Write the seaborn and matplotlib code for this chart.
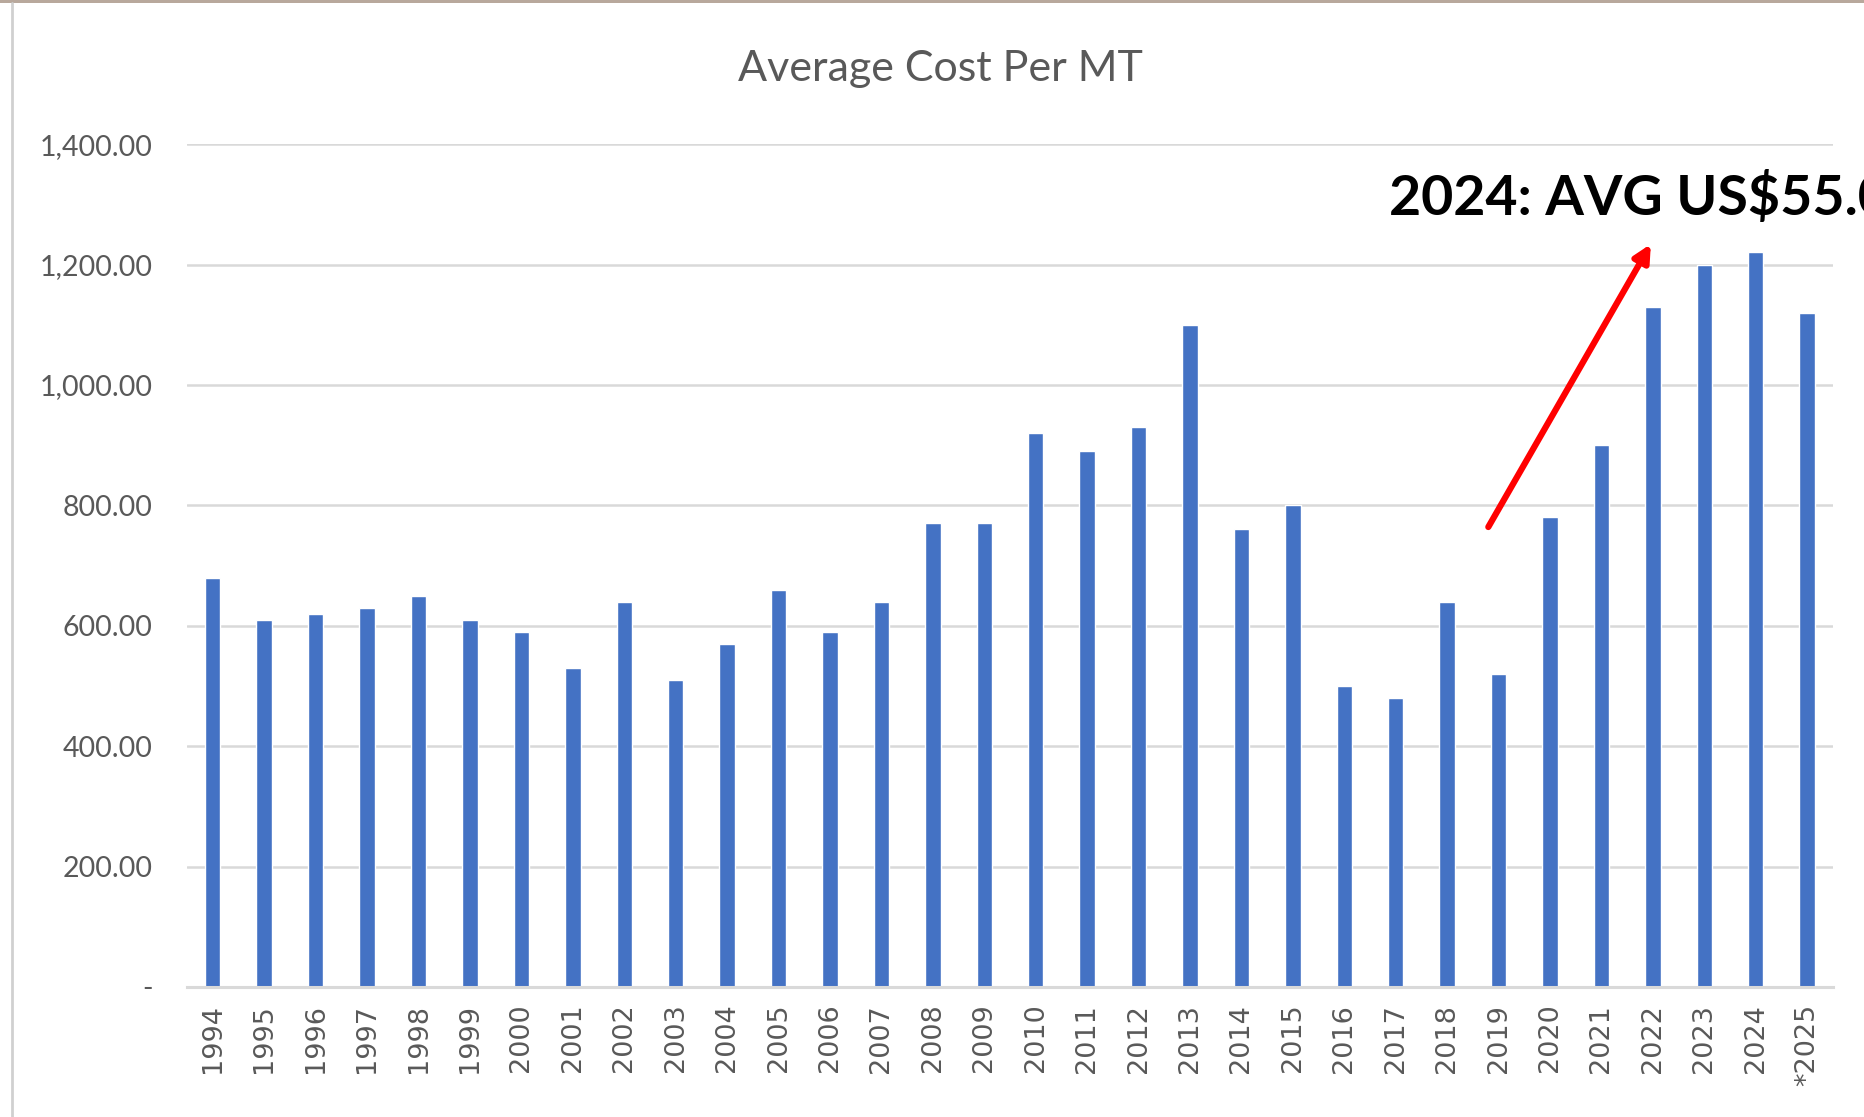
"""
Costo promedio por tonelada métrica, 1994-2025.
"""
import matplotlib.pyplot as plt
import matplotlib.patches as mpatches
import pandas as pd
import seaborn as sns

years = ['1994', '1995', '1996', '1997', '1998', '1999', '2000', '2001', '2002', '2003',
         '2004', '2005', '2006', '2007', '2008', '2009', '2010', '2011', '2012', '2013',
         '2014', '2015', '2016', '2017', '2018', '2019', '2020', '2021', '2022', '2023',
         '2024', '*2025']
avg_cost = [680, 610, 620, 630, 650, 610, 590, 530, 640, 510,
            570, 660, 590, 640, 770, 770, 920, 890, 930, 1100,
            760, 800, 500, 480, 640, 520, 780, 900, 1130, 1200,
            1220, 1120]
y_ticks = [0, 200, 400, 600, 800, 1000, 1200, 1400]
y_tick_labels = ['-', '200.00', '400.00', '600.00', '800.00', '1,000.00', '1,200.00', '1,400.00']

df = pd.DataFrame({'anio': years, 'costo': avg_cost})

sns.set_style('white')
gris_texto = '#595959'
gris_linea = '#D9D9D9'

fig = plt.figure(figsize=(18.65, 11.17), dpi=100)
ax = fig.add_axes([0.1003, 0.1164, 0.8825, 0.7546])

sns.barplot(data=df, x='anio', y='costo', color='#4472C4', width=0.3,
            saturation=1, order=years, ax=ax)

ax.set_ylim(0, 1400)
ax.set_xlim(-0.5, len(years) - 0.5)
ax.set_yticks(y_ticks)
ax.set_yticklabels(y_tick_labels, family='Lato', fontsize=20.5, color=gris_texto)
ax.set_xticks(range(len(years)))
ax.set_xticklabels(years, rotation=90, fontsize=19.5, color=gris_texto, family='DejaVu Sans')
ax.tick_params(axis='y', length=0, pad=25)
ax.tick_params(axis='x', length=0, pad=12)
ax.set_xlabel('')
ax.set_ylabel('')

ax.yaxis.grid(True, color=gris_linea, linewidth=1.8)
ax.set_axisbelow(True)
for lado in ['top', 'right', 'left']:
    ax.spines[lado].set_visible(False)
ax.spines['bottom'].set_color(gris_linea)
ax.spines['bottom'].set_linewidth(2.2)

fig.text(0.504, 0.938, 'Average Cost Per MT', ha='center', va='center',
         family='Lato', fontsize=31, color=gris_texto)

# anotación roja
ax.annotate('', xy=(27.96, 1234), xytext=(24.8, 764),
            arrowprops=dict(arrowstyle='-|>,head_length=1.0,head_width=0.5',
                            color='#FF0000', lw=4.5, shrinkA=0, shrinkB=0),
            annotation_clip=False)
ax.text(22.87, 1283, '2024: AVG US$55.00', family='Lato', fontweight='bold',
        fontsize=40, color='black', ha='left', va='baseline', clip_on=False)

# marco del gráfico
fig.patches.append(mpatches.Rectangle((0, 0.997), 1, 0.003, transform=fig.transFigure,
                                      facecolor='#B8A89C', edgecolor='none'))
fig.lines.append(plt.Line2D([0.0065, 0.0065], [0, 0.997], transform=fig.transFigure,
                            color='#D0D0D0', linewidth=2))

fig.savefig('out.png', dpi=100)
